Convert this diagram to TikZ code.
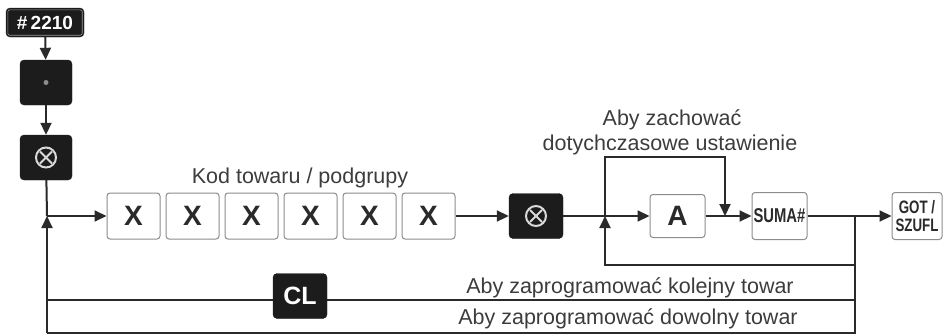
\documentclass[tikz,border=0pt]{standalone}
\usepackage{fontspec}
\setmainfont{Liberation Sans}
\usetikzlibrary{arrows.meta, positioning, calc}
\definecolor{keydark}{HTML}{1C1C1C}
\definecolor{keyedge}{HTML}{8C8C8C}
\definecolor{linedark}{HTML}{2A2A2A}
\definecolor{labelgray}{HTML}{3C3C3C}
\newcommand{\narrowkey}[1]{\scalebox{0.74}[1]{#1}}
\newcommand{\timessign}[1]{%
  \draw[white!85!black, line width=2pt] (#1.center) circle (10pt);
  \draw[white!85!black, line width=2pt] ($(#1.center)+(-6,-6)$) -- ($(#1.center)+(6,6)$);
  \draw[white!85!black, line width=2pt] ($(#1.center)+(-6,6)$) -- ($(#1.center)+(6,-6)$);}

\tikzset{
  darkkey/.style={draw=keydark, fill=keydark, rounded corners=4pt, text=white,
    inner sep=0pt, minimum width=52pt, minimum height=45pt,
    font=\bfseries\fontsize{25}{25}\selectfont},
  lightkey/.style={draw=keyedge, fill=white, rounded corners=3pt, line width=1pt,
    inner sep=0pt, minimum width=53pt, minimum height=46pt, text=linedark,
    font=\bfseries\fontsize{28}{28}\selectfont},
  flow/.style={draw=linedark, line width=2pt, -{Triangle[length=12pt,width=11pt]}},
  wire/.style={draw=linedark, line width=2pt},
  hint/.style={text=labelgray, font=\fontsize{21.5}{24}\selectfont, inner sep=0pt, anchor=base},
}

\begin{document}
\begin{tikzpicture}[x=1pt, y=-1pt]
  \useasboundingbox (0,0) rectangle (943,335);

  % entry keys
  \node[darkkey, minimum width=78pt, minimum height=29pt,
        font=\bfseries\fontsize{19}{19}\selectfont] (prog) at (45,22.5) {\#\,2210};
  \draw[white!60!black, line width=0.6pt, rounded corners=2pt]
    ($(prog.south west)+(2,-2)$) rectangle ($(prog.north east)+(-2,2)$);
  \node[darkkey] (dot) at (46,82.5) {};
  \fill[white!55!black] (dot.center) circle (2.5pt);
  \node[darkkey] (mult) at (46,157.5) {};
  \timessign{mult}

  % code digits
  \node[lightkey] (x1) at (133.5,216) {X};
  \foreach \i [remember=\i as \prev (initially 1)] in {2,...,6}
    \node[lightkey, right=5pt of x\prev] (x\i) {X};
  \node[hint] (code) at (300,183) {Kod towaru / podgrupy};

  \node[darkkey, minimum width=54pt] (mult2) at (536,216) {};
  \timessign{mult2}
  \node[lightkey, minimum width=55pt, minimum height=43pt] (akey) at (677.5,216) {A};
  \node[lightkey, minimum width=55pt, minimum height=47pt,
        font=\bfseries\fontsize{20}{20}\selectfont] (suma) at (779.5,216) {\narrowkey{SUMA\#}};
  \node[lightkey, minimum width=50pt, minimum height=47pt, align=center,
        font=\bfseries\fontsize{18}{18}\selectfont] (got) at (917,216) {\narrowkey{GOT /}\\\narrowkey{SZUFL}};

  \node[hint] (keep1) at (672,125) {Aby zachować};
  \node[hint] (keep2) at (670,150) {dotychczasowe ustawienie};
  \node[hint] (next) at (630,293) {Aby zaprogramować kolejny towar};
  \node[hint] (any) at (628,324) {Aby zaprogramować dowolny towar};

  % junctions
  \coordinate (lj) at (47,216);
  \coordinate (lm) at (47,300);
  \coordinate (lb) at (47,333);
  \coordinate (mj) at (605,216);
  \coordinate (mt) at (605,157);
  \coordinate (mb) at (605,265);
  \coordinate (kt) at (725,157);
  \coordinate (kd) at (725,216);
  \coordinate (rj) at (855,216);
  \coordinate (rl) at (855,265);
  \coordinate (rm) at (855,300);
  \coordinate (rb) at (855,333);

  \draw[flow] (prog) -- (dot);
  \draw[flow] (dot) -- (mult);
  \draw[wire] (mult) -- (lj);
  \draw[flow] (lj) -- (x1);
  \draw[flow] (x6) -- (mult2);
  \draw[flow] (mult2) -- (akey);
  \draw[flow] (akey) -- (suma);
  \draw[flow] (suma) -- (got);
  \draw[flow] (mj) -- (mt) -- (kt) -- (kd);
  \draw[flow] (rj) -- (rl) -- (mb) -- (mj);
  \draw[wire] (rl) -- (rb) -- (lb);
  \draw[wire] (rm) -- (lm);
  \draw[flow] (lb) -- (lj);

  \node[darkkey, minimum width=54pt] (cl) at (300,296) {CL};
\end{tikzpicture}
\end{document}
